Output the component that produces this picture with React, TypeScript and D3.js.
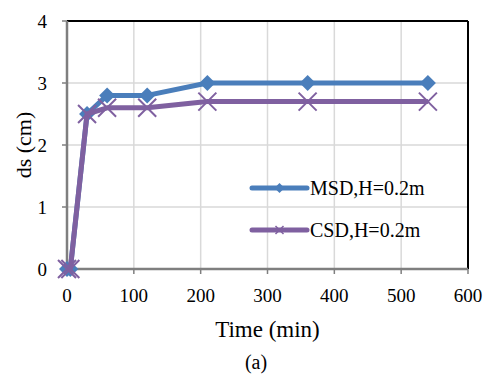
import React from "react";
import * as d3 from "d3";

const times = [0, 5, 30, 60, 120, 210, 360, 540];
const msd = [0, 0, 2.5, 2.8, 2.8, 3.0, 3.0, 3.0];
const csd = [0, 0, 2.5, 2.6, 2.6, 2.7, 2.7, 2.7];
const xTicks = [0, 100, 200, 300, 400, 500, 600];
const yTicks = [0, 1, 2, 3, 4];
const seriesNames = ["MSD,H=0.2m", "CSD,H=0.2m"];
const colors = ["#4a7ebb", "#7f60a0"];

const W = 485, H = 378;
const L = 67, R = 468, T = 21, B = 269;
const font = "Liberation Serif, Times New Roman, serif";

export default function App() {
  const x = d3.scaleLinear().domain([0, 600]).range([L, R]);
  const y = d3.scaleLinear().domain([0, 4]).range([B, T]);
  const line = d3.line<number>().x((_, i) => x(times[i])).y((d) => y(d));
  const diamond = (cx: number, cy: number, r: number) =>
    `M${cx},${cy - r}L${cx + r},${cy}L${cx},${cy + r}L${cx - r},${cy}Z`;
  const cross = (cx: number, cy: number, r: number) =>
    `M${cx - r},${cy - r}L${cx + r},${cy + r}M${cx - r},${cy + r}L${cx + r},${cy - r}`;

  return (
    <svg width={W} height={H} style={{ position: "absolute", left: 0, top: 0, background: "#fff" }}>
      <rect width={W} height={H} fill="#fff" />
      {xTicks.slice(1, -1).map((t) => (
        <line key={"gx" + t} x1={x(t)} x2={x(t)} y1={T} y2={B} stroke="#d9d9d9" strokeWidth={1.5} />
      ))}
      {yTicks.slice(1, -1).map((t) => (
        <line key={"gy" + t} x1={L} x2={R} y1={y(t)} y2={y(t)} stroke="#d9d9d9" strokeWidth={1.5} />
      ))}
      <line x1={L} x2={R} y1={T} y2={T} stroke="#000" strokeWidth={2} />
      <line x1={R} x2={R} y1={T} y2={B} stroke="#000" strokeWidth={2} />
      <line x1={L} x2={R} y1={B} y2={B} stroke="#7f7f7f" strokeWidth={2.5} />
      <line x1={L} x2={L} y1={T} y2={B} stroke="#7f7f7f" strokeWidth={2.5} />
      {xTicks.map((t) => (
        <g key={"tx" + t}>
          <line x1={x(t)} x2={x(t)} y1={B} y2={B + 5} stroke="#7f7f7f" strokeWidth={1.5} />
          <text x={x(t)} y={302} textAnchor="middle" fontFamily={font} fontSize={19} fill="#000">{t}</text>
        </g>
      ))}
      {yTicks.map((t) => (
        <g key={"ty" + t}>
          <line x1={L - 5} x2={L} y1={y(t)} y2={y(t)} stroke="#7f7f7f" strokeWidth={1.5} />
          <text x={47} y={y(t)} dy="0.35em" textAnchor="end" fontFamily={font} fontSize={19} fill="#000">{t}</text>
        </g>
      ))}
      {[msd, csd].map((s, k) => (
        <g key={"s" + k}>
          <path d={line(s) || ""} fill="none" stroke={colors[k]} strokeWidth={5} strokeLinejoin="round" />
          {s.map((v, i) =>
            k === 0 ? (
              <path key={i} d={diamond(x(times[i]), y(v), 8)} fill={colors[k]} />
            ) : (
              <path key={i} d={cross(x(times[i]), y(v), 9)} stroke={colors[k]} strokeWidth={2} fill="none" />
            )
          )}
        </g>
      ))}
      {seriesNames.map((n, k) => {
        const ly = k === 0 ? 188 : 230;
        return (
          <g key={"l" + k}>
            <line x1={252} x2={307} y1={ly} y2={ly} stroke={colors[k]} strokeWidth={5} strokeLinecap="round" />
            {k === 0 ? (
              <path d={diamond(279.5, ly, 5)} fill={colors[k]} />
            ) : (
              <path d={cross(279.5, ly, 4)} stroke={colors[k]} strokeWidth={1.5} fill="none" />
            )}
            <text x={310} y={ly} dy="0.35em" fontFamily={font} fontSize={20} fill="#000">{n}</text>
          </g>
        );
      })}
      <text x={(L + R) / 2} y={337} textAnchor="middle" fontFamily={font} fontSize={23} fill="#000">Time (min)</text>
      <text transform={`translate(31,${(T + B) / 2}) rotate(-90)`} textAnchor="middle" fontFamily={font} fontSize={22} fill="#000">ds (cm)</text>
      <text x={256} y={369} textAnchor="middle" fontFamily={font} fontSize={20} fill="#000">(a)</text>
    </svg>
  );
}
